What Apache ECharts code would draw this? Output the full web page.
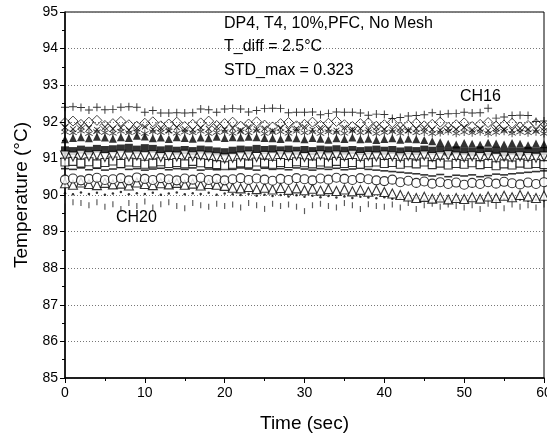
<!DOCTYPE html>
<html><head><meta charset="utf-8">
<script src="https://cdn.jsdelivr.net/npm/echarts@6/dist/echarts.min.js"></script>
<style>html,body{margin:0;padding:0;background:#fff}#c{width:547px;height:441px}</style>
</head><body><div id="c"></div>
<script>
const times = Array.from({length:61},(_,i)=>i);
const yTicks = [85,86,87,88,89,90,91,92,93,94,95];
const xTicks = [0,10,20,30,40,50,60];

const ch16Plus = [92.40,92.41,92.39,92.32,92.40,92.33,92.34,92.40,92.41,92.40,
 92.26,92.31,92.24,92.24,92.25,92.24,92.25,92.35,92.33,92.26,
 92.35,92.36,92.35,92.27,92.31,92.36,92.37,92.36,92.25,92.26,
 92.26,92.27,92.19,92.23,92.27,92.26,92.26,92.24,92.18,92.21,
 92.20,92.09,92.12,92.16,92.17,92.19,92.25,92.20,92.22,92.23,
 92.26,92.24,92.25,92.37,92.10,92.13,92.17,92.18,92.17,92.01,92.02];
const openDiamond = [91.98,92.02,91.93,91.99,92.04,91.90,91.95,92.01,91.92,91.88,
 91.96,92.00,91.89,91.94,91.99,91.87,91.93,91.97,92.02,91.90,
 91.95,91.99,91.88,91.94,92.00,91.91,91.86,91.95,91.98,91.89,
 91.93,91.99,91.90,91.96,92.01,91.92,91.87,91.95,91.97,91.88,
 91.92,91.98,91.86,91.91,91.96,91.89,91.93,91.99,91.85,91.92,
 91.97,91.87,91.93,91.98,91.88,91.91,91.96,91.86,91.90,91.95,91.88];
const crossX = [91.85,91.80,91.88,91.83,91.78,91.86,91.81,91.84,91.77,91.82,
 91.87,91.79,91.83,91.76,91.85,91.80,91.78,91.84,91.81,91.86,
 91.79,91.83,91.77,91.85,91.80,91.82,91.76,91.84,91.79,91.81,
 91.86,91.78,91.83,91.80,91.76,91.84,91.79,91.82,91.77,91.85,
 91.80,91.78,91.83,91.76,91.81,91.84,91.79,91.77,91.82,91.80,
 91.85,91.78,91.81,91.76,91.83,91.79,91.77,91.82,91.80,91.78,91.84];
const asterisk = [91.72,91.70,91.75,91.68,91.73,91.71,91.69,91.74,91.70,91.72,
 91.68,91.73,91.71,91.75,91.69,91.72,91.70,91.74,91.68,91.71,
 91.73,91.69,91.72,91.70,91.75,91.68,91.71,91.73,91.69,91.74,
 91.70,91.72,91.68,91.73,91.71,91.69,91.74,91.70,91.72,91.68,
 91.71,91.73,91.69,91.75,91.70,91.72,91.68,91.71,91.74,91.69,
 91.72,91.70,91.73,91.68,91.71,91.74,91.69,91.72,91.70,91.73,91.68];
const filledTri = [91.52,91.56,91.58,91.55,91.59,91.57,91.54,91.58,91.56,91.62,
 91.60,91.55,91.57,91.53,91.58,91.56,91.54,91.57,91.55,91.59,
 91.56,91.58,91.57,91.59,91.58,91.56,91.55,91.53,91.57,91.55,
 91.52,91.56,91.54,91.51,91.55,91.53,91.57,91.52,91.54,91.50,
 91.53,91.55,91.51,91.54,91.52,91.50,91.47,91.44,91.40,91.38,
 91.42,91.40,91.37,91.43,91.41,91.38,91.42,91.40,91.36,91.41,91.39];
const filledSq = [91.22,91.20,91.24,91.21,91.26,91.23,91.25,91.27,91.29,91.24,
 91.28,91.26,91.22,91.25,91.21,91.23,91.20,91.24,91.22,91.19,
 91.17,91.21,91.24,91.22,91.26,91.23,91.25,91.22,91.24,91.21,
 91.23,91.20,91.24,91.22,91.25,91.21,91.23,91.20,91.22,91.24,
 91.21,91.23,91.19,91.22,91.20,91.24,91.21,91.23,91.19,91.22,
 91.20,91.18,91.22,91.19,91.21,91.17,91.20,91.18,91.21,91.19,91.20];
const invTri = [91.08,91.05,91.10,91.06,91.09,91.04,91.07,91.10,91.05,91.08,
 91.06,91.09,91.04,91.07,91.05,91.10,91.06,91.08,91.05,91.03,
 91.00,91.02,91.05,91.08,91.04,91.07,91.05,91.09,91.06,91.08,
 91.04,91.07,91.09,91.05,91.08,91.06,91.10,91.04,91.07,91.05,
 91.08,91.06,91.03,91.07,91.05,91.08,91.04,91.06,91.09,91.05,
 91.03,91.06,91.04,91.07,91.02,91.05,91.03,91.06,91.04,91.02,91.05];
const openSq = [90.90,90.92,90.87,90.91,90.85,90.89,90.93,90.86,90.90,90.88,
 90.84,90.87,90.91,90.86,90.89,90.85,90.92,90.88,90.86,90.83,
 90.80,90.84,90.88,90.85,90.90,90.87,90.84,90.89,90.86,90.91,
 90.88,90.85,90.90,90.87,90.92,90.86,90.89,90.84,90.88,90.90,
 90.86,90.89,90.84,90.88,90.85,90.90,90.83,90.87,90.82,90.86,
 90.84,90.88,90.83,90.86,90.80,90.85,90.82,90.87,90.84,90.86,90.83];
const dashMark = [90.72,90.70,90.74,90.69,90.73,90.68,90.71,90.75,90.70,90.72,
 90.68,90.71,90.73,90.69,90.72,90.70,90.74,90.68,90.71,90.69,
 90.72,90.70,90.74,90.71,90.68,90.73,90.70,90.72,90.69,90.74,
 90.71,90.68,90.72,90.70,90.73,90.69,90.71,90.74,90.70,90.68,
 90.66,90.64,90.62,90.60,90.58,90.55,90.52,90.56,90.50,90.54,
 90.52,90.55,90.50,90.53,90.57,90.55,90.58,90.60,90.62,90.64,90.66];
const openCircle = [90.42,90.45,90.40,90.44,90.47,90.41,90.43,90.46,90.40,90.48,
 90.44,90.41,90.46,90.43,90.40,90.45,90.42,90.47,90.41,90.44,
 90.40,90.43,90.46,90.41,90.45,90.42,90.39,90.44,90.41,90.46,
 90.43,90.40,90.45,90.42,90.47,90.44,90.41,90.46,90.43,90.40,
 90.38,90.42,90.35,90.39,90.33,90.37,90.31,90.35,90.30,90.34,
 90.28,90.33,90.30,90.35,90.31,90.36,90.32,90.29,90.34,90.30,90.35];
const openTri = [90.32,90.28,90.34,90.30,90.27,90.33,90.29,90.31,90.26,90.34,
 90.30,90.27,90.32,90.29,90.33,90.28,90.31,90.26,90.30,90.28,
 90.25,90.20,90.18,90.22,90.16,90.20,90.15,90.19,90.14,90.18,
 90.13,90.17,90.12,90.16,90.11,90.15,90.10,90.14,90.09,90.13,
 90.08,90.04,90.00,89.96,89.92,89.95,89.90,89.93,89.88,89.92,
 89.89,89.94,89.90,89.96,89.92,89.98,89.94,90.00,89.96,89.92,89.98];
const smallDot = [90.05,90.02,90.07,90.03,90.06,90.01,90.04,90.08,90.02,90.05,
 90.03,90.06,90.01,90.04,90.07,90.02,90.05,90.03,90.06,90.01,
 90.04,90.02,90.00,90.03,89.98,90.01,89.97,90.00,89.96,89.99,
 89.95,89.98,89.94,89.97,89.93,89.96,89.92,89.95,89.93,89.91,
 89.94,89.90,89.92,89.88,89.91,89.87,89.90,89.86,89.89,89.85,
 89.88,89.86,89.90,89.87,89.85,89.89,89.86,89.88,89.84,89.87,89.85];
const ch20Dash = [89.85,89.80,89.78,89.72,89.80,89.68,89.75,89.62,89.78,89.70,
 89.82,89.66,89.75,89.80,89.70,89.64,89.78,89.72,89.68,89.76,
 89.70,89.74,89.66,89.78,89.72,89.62,89.76,89.70,89.74,89.68,
 89.56,89.72,89.76,89.70,89.66,89.78,89.72,89.62,89.75,89.70,
 89.68,89.74,89.66,89.78,89.62,89.72,89.76,89.68,89.74,89.70,
 89.66,89.72,89.62,89.76,89.70,89.64,89.74,89.68,89.72,89.66,89.74];

const PLUS = 'path://M-0.6,-5H0.6V-0.6H5V0.6H0.6V5H-0.6V0.6H-5V-0.6H-0.6Z';
const ASTER = 'path://M-0.5,-5H0.5V5H-0.5Z M-4.3,-2.2L-3.8,-3.1L4.3,2.2L3.8,3.1Z M-4.3,2.2L-3.8,3.1L4.3,-2.2L3.8,-3.1Z';
const open = {color:'#fff',borderColor:'#000',borderWidth:1.1};
const solid = {color:'#000'};

function mk(vals, symbol, size, style, rotate){
  return {type:'scatter', data: times.map((t,i)=>[t, vals[i]]), symbol, symbolSize:size,
    symbolRotate: rotate||0, itemStyle: style, silent:true, animation:false};
}
const series = [
  mk(ch20Dash, 'rect', [1.2,6], {color:'#333'}),
  mk(smallDot, 'circle', 2.5, solid),
  mk(openTri, 'triangle', 9, open),
  mk(openCircle, 'circle', 9, open),
  mk(dashMark, 'rect', [8,1.6], solid),
  mk(openSq, 'rect', 8, open),
  mk(filledSq, 'rect', 8, solid),
  mk(invTri, 'triangle', 9, open, 180),
  mk(filledTri, 'triangle', 8, solid),
  mk(asterisk, ASTER, 8, {color:'#111'}),
  mk(crossX, PLUS, 8, solid, 45),
  mk(openDiamond, 'diamond', 10, {color:'rgba(255,255,255,0)',borderColor:'#000',borderWidth:0.9}),
  mk(ch16Plus, PLUS, 8, solid)
];

const chart = echarts.init(document.getElementById('c'), null, {renderer:'canvas'});
const F = 'Liberation Sans, Arial, sans-serif';
chart.setOption({
  animation:false,
  backgroundColor:'#fff',
  grid:{left:65,right:3,top:12,bottom:63,show:true,borderColor:'#000',borderWidth:1,
    backgroundColor:'transparent',containLabel:false,outerBoundsMode:'none'},
  xAxis:{type:'value',min:0,max:60,interval:10,
    name:'Time (sec)',nameLocation:'middle',nameGap:36,nameTextStyle:{fontFamily:F,fontSize:19,color:'#000'},
    axisLine:{onZero:false,lineStyle:{color:'#000',width:1.5}},
    axisTick:{length:5,lineStyle:{color:'#000'}},
    minorTick:{show:true,splitNumber:2,length:3,lineStyle:{color:'#000'}},
    axisLabel:{fontFamily:F,fontSize:14,color:'#000',margin:8,hideOverlap:false,
      formatter:v=>xTicks.includes(v)?String(v):''},
    splitLine:{show:false}},
  yAxis:{type:'value',min:85,max:95,interval:1,
    name:'Temperature (°C)',nameLocation:'middle',nameGap:32,nameTextStyle:{fontFamily:F,fontSize:19,color:'#000'},
    axisLine:{show:true,lineStyle:{color:'#000',width:1.5}},
    axisTick:{length:5,lineStyle:{color:'#000'}},
    minorTick:{show:true,splitNumber:2,length:3,lineStyle:{color:'#000'}},
    axisLabel:{fontFamily:F,fontSize:14,color:'#000',margin:7,
      formatter:v=>yTicks.includes(v)?String(v):''},
    splitLine:{show:true,lineStyle:{color:'#777',type:[1,2],width:1}}},
  graphic:[
    {type:'text',id:'a1',z:100,left:224,top:16,style:{text:'DP4, T4, 10%,PFC, No Mesh',font:'16px '+F,fill:'#000'}},
    {type:'text',id:'a2',z:100,left:224,top:39,style:{text:'T_diff = 2.5°C',font:'16px '+F,fill:'#000'}},
    {type:'text',id:'a3',z:100,left:224,top:63,style:{text:'STD_max = 0.323',font:'16px '+F,fill:'#000'}},
    {type:'text',id:'a4',z:100,left:460,top:89,style:{text:'CH16',font:'16px '+F,fill:'#000'}},
    {type:'text',id:'a5',z:100,left:116,top:210,style:{text:'CH20',font:'16px '+F,fill:'#000'}}
  ],
  series
});
</script></body></html>
